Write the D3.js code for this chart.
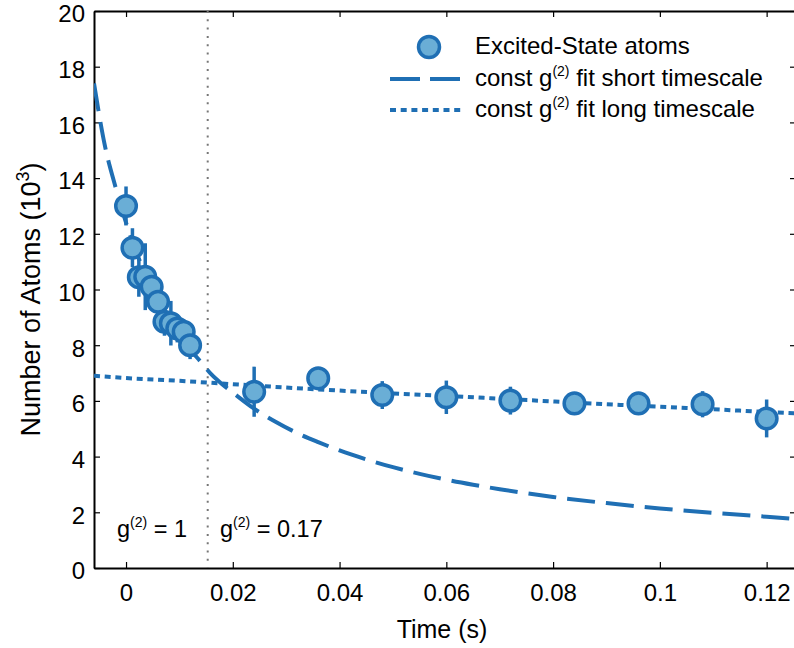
<!DOCTYPE html>
<html>
<head>
<meta charset="utf-8">
<script src="https://cdn.jsdelivr.net/npm/d3@7"></script>
<style>
  html, body { margin: 0; padding: 0; background: #fff; }
  svg text { font-family: "Liberation Sans", Arial, Helvetica, sans-serif; fill: #000; }
</style>
</head>
<body>
<svg id="chart" width="794" height="648"></svg>
<script>
// ---- data ----
const timeShort  = [0, 0.0012, 0.0024, 0.0036, 0.0048, 0.006, 0.0072, 0.0084, 0.0096, 0.0108, 0.012];
const atomsShort = [13.0, 11.5, 10.44, 10.46, 10.1, 9.56, 8.84, 8.79, 8.6, 8.48, 8.0];
const errShort   = [0.7, 0.7, 0.7, 1.2, 0.6, 0.6, 0.5, 0.8, 0.5, 0.45, 0.5];

const timeLong  = [0.024, 0.036, 0.048, 0.06, 0.072, 0.084, 0.096, 0.108, 0.12];
const atomsLong = [6.33, 6.81, 6.21, 6.13, 6.01, 5.91, 5.91, 5.88, 5.37];
const errLong   = [0.9, 0.4, 0.5, 0.6, 0.5, 0.4, 0.4, 0.47, 0.68];

// fit curves
const fitShortT = [-0.006, -0.004, -0.002, 0, 0.002, 0.004, 0.006, 0.008, 0.010, 0.012, 0.014, 0.016, 0.018, 0.020, 0.024, 0.028, 0.032, 0.036, 0.040, 0.045, 0.050, 0.055, 0.060, 0.065, 0.070, 0.080, 0.090, 0.100, 0.110, 0.120, 0.1255];
const fitShortN = [17.4, 15.2, 13.7, 12.4, 11.3, 10.4, 9.6, 8.95, 8.35, 7.85, 7.4, 6.95, 6.6, 6.3, 5.72, 5.25, 4.85, 4.52, 4.22, 3.9, 3.62, 3.38, 3.17, 2.99, 2.83, 2.55, 2.33, 2.14, 1.98, 1.84, 1.76];

const fitLongT = [-0.006, 0, 0.01, 0.02, 0.03, 0.04, 0.05, 0.06, 0.07, 0.08, 0.09, 0.10, 0.11, 0.12, 0.1255];
const fitLongN = [6.9, 6.82, 6.72, 6.6, 6.48, 6.37, 6.27, 6.18, 6.08, 5.98, 5.88, 5.79, 5.7, 5.6, 5.55];

const xTicks = [0, 0.02, 0.04, 0.06, 0.08, 0.1, 0.12];
const yTicks = [0, 2, 4, 6, 8, 10, 12, 14, 16, 18, 20];
const gLine = 0.0153;

// ---- layout ----
const svg = d3.select("#chart");
const L = 94, R = 796, T = 11, B = 568;
const x = d3.scaleLinear().domain([-0.006, 0.1255]).range([L, R]);
const y = d3.scaleLinear().domain([0, 20]).range([B, T]);
const blue = "#1f6fb4", fillBlue = "#6aaed6";
const fs = 24;

// axes
const tickLen = 6;
const xAxisB = d3.axisBottom(x).tickValues(xTicks).tickSizeInner(-tickLen).tickSizeOuter(0).tickPadding(16).tickFormat(d => d3.format("~g")(d));
const xAxisT = d3.axisTop(x).tickValues(xTicks).tickSizeInner(-tickLen).tickSizeOuter(0).tickFormat("");
const yAxisL = d3.axisLeft(y).tickValues(yTicks).tickSizeInner(-tickLen).tickSizeOuter(0).tickPadding(9);
const yAxisR = d3.axisRight(y).tickValues(yTicks).tickSizeInner(-tickLen).tickSizeOuter(0).tickFormat("");

function styleAxis(g) {
  g.select(".domain").attr("stroke", "#000").attr("stroke-width", 2);
  g.selectAll(".tick line").attr("stroke", "#000").attr("stroke-width", 1.2);
  g.selectAll(".tick text").style("font-size", fs + "px").attr("fill", "#000");
}
svg.append("g").attr("transform", `translate(0,${B})`).call(xAxisB).call(styleAxis);
svg.append("g").attr("transform", `translate(0,${T})`).call(xAxisT).call(styleAxis);
svg.append("g").attr("transform", `translate(${L},0)`).call(yAxisL).call(styleAxis)
  .selectAll(".tick text").attr("dy", "0.45em");
svg.append("g").attr("transform", `translate(${R},0)`).call(yAxisR).call(styleAxis);

// clip
svg.append("clipPath").attr("id", "clip").append("rect").attr("x", L).attr("y", T).attr("width", R - L).attr("height", B - T);
const plot = svg.append("g").attr("clip-path", "url(#clip)");

// vertical dotted line
plot.append("line").attr("x1", x(gLine)).attr("x2", x(gLine)).attr("y1", T).attr("y2", B)
  .attr("stroke", "#777").attr("stroke-width", 2).attr("stroke-dasharray", "2,6.3");

const line = d3.line().x(d => x(d[0])).y(d => y(d[1])).curve(d3.curveMonotoneX);
plot.append("path").datum(fitShortT.map((t, i) => [t, fitShortN[i]])).attr("d", line)
  .attr("fill", "none").attr("stroke", blue).attr("stroke-width", 4).attr("stroke-dasharray", "28,11");
plot.append("path").datum(fitLongT.map((t, i) => [t, fitLongN[i]])).attr("d", line)
  .attr("fill", "none").attr("stroke", blue).attr("stroke-width", 4).attr("stroke-dasharray", "6,4.7");

const pts = timeShort.map((t, i) => ({t, n: atomsShort[i], e: errShort[i]}))
  .concat(timeLong.map((t, i) => ({t, n: atomsLong[i], e: errLong[i]})));
plot.selectAll("line.err").data(pts).enter().append("line").attr("class", "err")
  .attr("x1", d => x(d.t)).attr("x2", d => x(d.t))
  .attr("y1", d => y(d.n - d.e)).attr("y2", d => y(d.n + d.e))
  .attr("stroke", blue).attr("stroke-width", 3.5);
plot.selectAll("circle.pt").data(pts).enter().append("circle").attr("class", "pt")
  .attr("cx", d => x(d.t)).attr("cy", d => y(d.n)).attr("r", 10.3)
  .attr("fill", fillBlue).attr("stroke", blue).attr("stroke-width", 3.5);

// annotations
const gfs = 23.5, sfs = 14;
function gText(xp, yp, rest) {
  const t = svg.append("text").attr("x", xp).attr("y", yp).style("font-size", gfs + "px");
  t.append("tspan").text("g");
  t.append("tspan").attr("dy", -10).style("font-size", sfs + "px").text("(2)");
  t.append("tspan").attr("dy", 10).text(rest);
  return t;
}
gText(117, 537, " = 1");
gText(220, 537, " = 0.17");

// legend
const lg = svg.append("g");
lg.append("circle").attr("cx", 429).attr("cy", 47).attr("r", 10.5).attr("fill", fillBlue).attr("stroke", blue).attr("stroke-width", 3.5);
lg.append("text").attr("x", 475).attr("y", 54).style("font-size", fs + "px").text("Excited-State atoms");
lg.append("line").attr("x1", 390).attr("x2", 460).attr("y1", 79).attr("y2", 79).attr("stroke", blue).attr("stroke-width", 4).attr("stroke-dasharray", "30,10");
function legText(yp, rest) {
  const t = lg.append("text").attr("x", 475).attr("y", yp).style("font-size", fs + "px");
  t.append("tspan").text("const g");
  t.append("tspan").attr("dy", -10).style("font-size", sfs + "px").text("(2)");
  t.append("tspan").attr("dy", 10).text(rest);
}
legText(86, " fit short timescale");
lg.append("line").attr("x1", 390).attr("x2", 462).attr("y1", 110).attr("y2", 110).attr("stroke", blue).attr("stroke-width", 4).attr("stroke-dasharray", "6,4.7");
legText(117, " fit long timescale");

// axis labels
svg.append("text").attr("x", 442).attr("y", 638).attr("text-anchor", "middle").style("font-size", "25px").text("Time (s)");
const yl = svg.append("text").attr("transform", `translate(40,${(T + B) / 2 + 10}) rotate(-90)`).attr("text-anchor", "middle").style("font-size", "27px");
yl.append("tspan").text("Number of Atoms (10");
yl.append("tspan").attr("dy", -11).style("font-size", "18px").text("3");
yl.append("tspan").attr("dy", 11).text(")");
</script>
</body>
</html>
